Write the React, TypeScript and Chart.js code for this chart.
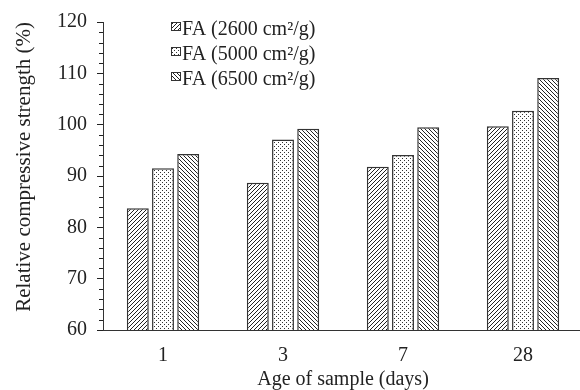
import React, { useEffect, useRef } from "react";
import { Chart, registerables } from "chart.js";

Chart.register(...registerables);

// ---- data ----
const categories = ["1", "3", "7", "28"];
const seriesLabels = ["FA (2600 cm²/g)", "FA (5000 cm²/g)", "FA (6500 cm²/g)"];
const fa2600 = [83.7, 88.7, 91.8, 99.7];
const fa5000 = [91.5, 97.1, 94.1, 102.7];
const fa6500 = [94.3, 99.2, 99.5, 109.1];
const yMin = 60;
const yMax = 120;
const yStep = 10;
const yMinorStep = 2;
const xTitle = "Age of sample (days)";
const yTitle = "Relative compressive strength (%)";

const FONT = "'Liberation Serif', 'Times New Roman', serif";
const INK = "#222";

function makePattern(kind: string): CanvasPattern | string {
  const s = 4;
  const c = document.createElement("canvas");
  c.width = s;
  c.height = s;
  const g = c.getContext("2d");
  if (!g) return "#fff";
  g.fillStyle = "#fff";
  g.fillRect(0, 0, s, s);
  if (kind === "dots") {
    g.fillStyle = "#333";
    g.fillRect(0, 0, 1, 1);
    g.fillRect(2, 2, 1, 1);
  } else {
    g.strokeStyle = "#222";
    g.lineWidth = 1;
    g.beginPath();
    if (kind === "fwd") {
      g.moveTo(-1, s + 1);
      g.lineTo(s + 1, -1);
      g.moveTo(-1, 1);
      g.lineTo(1, -1);
      g.moveTo(s - 1, s + 1);
      g.lineTo(s + 1, s - 1);
    } else {
      g.moveTo(-1, -1);
      g.lineTo(s + 1, s + 1);
      g.moveTo(s - 1, -1);
      g.lineTo(s + 1, 1);
      g.moveTo(-1, s - 1);
      g.lineTo(1, s + 1);
    }
    g.stroke();
  }
  const p = g.createPattern(c, "repeat");
  return p || "#fff";
}

const minorTicksPlugin = {
  id: "minorTicks",
  afterDraw(chart: any) {
    const y = chart.scales.y;
    const ctx = chart.ctx;
    ctx.save();
    ctx.strokeStyle = INK;
    ctx.lineWidth = 1;
    for (let v = yMin; v <= yMax; v += yMinorStep) {
      if (v % yStep === 0) continue;
      const py = Math.round(y.getPixelForValue(v)) + 0.5;
      ctx.beginPath();
      ctx.moveTo(y.right - 4, py);
      ctx.lineTo(y.right, py);
      ctx.stroke();
    }
    ctx.restore();
  },
};

const insideLegendPlugin = {
  id: "insideLegend",
  afterDraw(chart: any) {
    const ctx = chart.ctx;
    const x0 = 171;
    const rows = [30, 55, 80];
    ctx.save();
    ctx.font = `20px ${FONT}`;
    ctx.textBaseline = "middle";
    ctx.textAlign = "left";
    chart.data.datasets.forEach((ds: any, i: number) => {
      const ty = rows[i];
      ctx.fillStyle = ds.backgroundColor;
      ctx.fillRect(x0, ty - 8, 10, 9);
      ctx.strokeStyle = "#333";
      ctx.lineWidth = 1;
      ctx.strokeRect(x0 + 0.5, ty - 7.5, 9, 8);
      ctx.fillStyle = INK;
      ctx.fillText(ds.label, x0 + 11, ty);
    });
    ctx.restore();
  },
};

export default function App() {
  const ref = useRef<HTMLCanvasElement>(null);

  useEffect(() => {
    document.body.style.margin = "0";
    document.documentElement.style.overflow = "hidden";
    const canvas = ref.current;
    if (!canvas) return;
    Chart.defaults.font.family = FONT;
    Chart.defaults.color = INK;

    const patterns = [makePattern("fwd"), makePattern("dots"), makePattern("back")];
    const values = [fa2600, fa5000, fa6500];

    const chart = new Chart(canvas, {
      type: "bar",
      data: {
        labels: categories,
        datasets: values.map((vals, i) => ({
          label: seriesLabels[i],
          data: vals,
          backgroundColor: patterns[i] as any,
          borderColor: "#333",
          borderWidth: 1.5,
          borderSkipped: false,
          categoryPercentage: 0.63,
          barPercentage: 0.87,
        })),
      },
      options: {
        responsive: false,
        animation: false,
        layout: { padding: { left: 0, top: 16, right: 7, bottom: 0 } },
        plugins: {
          legend: { display: false },
          tooltip: { enabled: false },
        },
        scales: {
          x: {
            grid: { display: false },
            border: { display: true, color: "#333", width: 1 },
            ticks: { font: { size: 20, family: FONT }, color: INK, padding: 6 },
            title: {
              display: true,
              text: xTitle,
              font: { size: 20, family: FONT },
              color: INK,
              padding: { top: 0, bottom: -2 },
            },
            afterFit: (scale: any) => {
              scale.height = 60;
            },
          },
          y: {
            min: yMin,
            max: yMax,
            ticks: {
              stepSize: yStep,
              font: { size: 20, family: FONT },
              color: INK,
              padding: 10,
            },
            grid: {
              display: true,
              drawOnChartArea: false,
              drawTicks: true,
              tickLength: 6,
              tickColor: INK,
            },
            border: { display: true, color: "#333", width: 1 },
            title: {
              display: true,
              text: yTitle,
              align: "end",
              font: { size: 21, family: FONT },
              color: INK,
              padding: { top: 12, bottom: 0 },
            },
            afterFit: (scale: any) => {
              scale.width = 103;
            },
          },
        },
      },
      plugins: [minorTicksPlugin, insideLegendPlugin],
    });
    return () => chart.destroy();
  }, []);

  return (
    <div style={{ width: 580, height: 390, overflow: "hidden", position: "relative" }}>
      <canvas ref={ref} width={590} height={390} style={{ display: "block" }} />
    </div>
  );
}
